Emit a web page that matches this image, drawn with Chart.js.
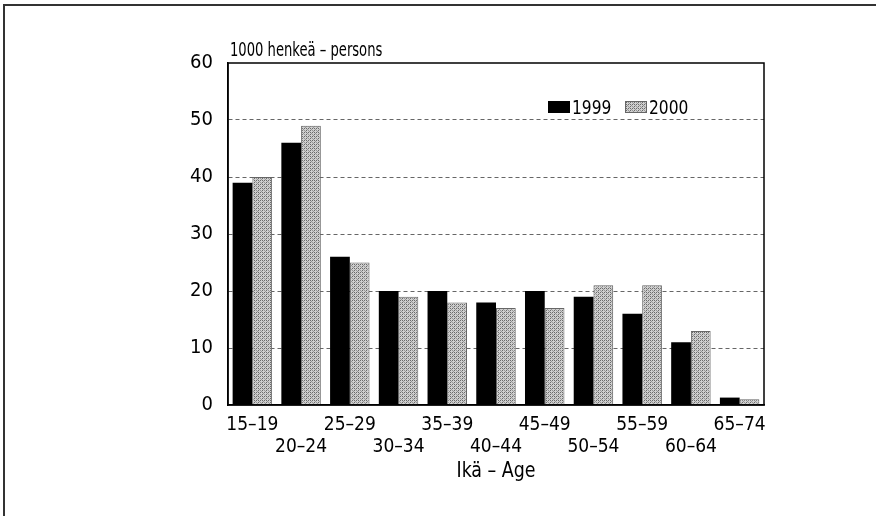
<!DOCTYPE html>
<html>
<head>
<meta charset="utf-8">
<script src="https://cdn.jsdelivr.net/npm/chart.js@4.4.0/dist/chart.umd.min.js"></script>
<style>
  html, body { margin: 0; padding: 0; background: #fff; }
</style>
</head>
<body>
<canvas id="myChart" width="876" height="516"></canvas>
<script>
const ageGroups = ['15–19', '20–24', '25–29', '30–34', '35–39', '40–44', '45–49', '50–54', '55–59', '60–64', '65–74'];
const values1999 = [39, 46, 26, 20, 20, 18, 20, 19, 16, 11, 1.3];
const values2000 = [40, 49, 25, 19, 18, 17, 17, 21, 21, 13, 1];
const yTicks = [0, 10, 20, 30, 40, 50, 60];
const seriesNames = ['1999', '2000'];

const FONT = "'Liberation Sans Narrow', 'DejaVu Sans Condensed', sans-serif";

// dotted grey fill like the printed screen tone
const makeTone = () => {
    const c = document.createElement('canvas');
    c.width = 4; c.height = 4;
    const g = c.getContext('2d');
    g.fillStyle = '#cfcfcf';
    g.fillRect(0, 0, 4, 4);
    g.fillStyle = '#6a6a6a';
    g.fillRect(0, 0, 1, 1);
    g.fillRect(2, 2, 1, 1);
    g.fillRect(2, 0, 1, 1);
    g.fillStyle = '#959595';
    g.fillRect(0, 2, 1, 1);
    g.fillRect(1, 3, 1, 1);
    g.fillRect(3, 1, 1, 1);
    return g.createPattern(c, 'repeat');
};

// narrow text: squeeze horizontally
const narrowText = (c, txt, x, y, sx) => {
    c.save();
    c.translate(x, y);
    c.scale(sx, 1);
    c.fillText(txt, 0, 0);
    c.restore();
};

const ctx = document.getElementById('myChart').getContext('2d');
const tone = makeTone();

const extras = {
    id: 'extras',
    beforeDraw(chart) {
        const c = chart.ctx;
        c.save();
        c.fillStyle = '#fff';
        c.fillRect(0, 0, chart.width, chart.height);
        // page frame (top and left edge)
        c.strokeStyle = '#333';
        c.lineWidth = 2;
        c.beginPath();
        c.moveTo(4, 516);
        c.lineTo(4, 5);
        c.lineTo(876, 5);
        c.stroke();
        c.restore();
    },
    afterDraw(chart) {
        const c = chart.ctx;
        const a = chart.chartArea;
        c.save();
        c.strokeStyle = '#000';
        c.lineWidth = 1.5;
        c.strokeRect(a.left, a.top, a.right - a.left, a.bottom - a.top);

        c.fillStyle = '#000';
        c.font = '20px ' + FONT;
        c.textBaseline = 'alphabetic';
        c.textAlign = 'left';
        narrowText(c, '1000 henkeä – persons', a.left + 2, 56, 0.73);

        c.font = '22px ' + FONT;
        c.textAlign = 'center';
        narrowText(c, 'Ikä – Age', (a.left + a.right) / 2, 477, 0.88);

        // legend
        const ds = chart.data.datasets;
        const boxes = [548, 625];
        c.textAlign = 'left';
        c.font = '20px ' + FONT;
        ds.forEach((d, i) => {
            const x = boxes[i];
            c.fillStyle = d.backgroundColor;
            c.fillRect(x, 101, 22, 12);
            if (d.borderWidth) {
                c.strokeStyle = d.borderColor;
                c.lineWidth = 1;
                c.strokeRect(x + 0.5, 101.5, 21, 11);
            }
            c.fillStyle = '#000';
            narrowText(c, d.label, x + 24, 114, 0.86);
        });
        c.restore();
    }
};

const myChart = new Chart(ctx, {
    type: 'bar',
    data: {
        labels: ageGroups,
        datasets: [
            {
                label: seriesNames[0],
                data: values1999,
                backgroundColor: '#000',
                borderWidth: 0
            },
            {
                label: seriesNames[1],
                data: values2000,
                backgroundColor: tone,
                borderColor: '#666',
                borderWidth: 1
            }
        ]
    },
    options: {
        responsive: false,
        animation: false,
        devicePixelRatio: 1,
        categoryPercentage: 0.81,
        barPercentage: 1,
        layout: { padding: { left: 188, right: 112, top: 63, bottom: 41 } },
        plugins: {
            legend: { display: false },
            tooltip: { enabled: false }
        },
        scales: {
            x: {
                grid: { display: false },
                border: { display: true, color: '#000', width: 1.5 },
                afterFit: (s) => { s.height = 70; },
                ticks: {
                    autoSkip: false,
                    maxRotation: 0,
                    padding: 1,
                    color: '#000',
                    font: { family: FONT, size: 19, lineHeight: 1.15 },
                    callback: (v, i) => i % 2 === 0 ? [ageGroups[i], ''] : ['', ageGroups[i]]
                }
            },
            y: {
                min: 0,
                max: 60,
                afterFit: (s) => { s.width = 40; },
                afterBuildTicks: (s) => { s.ticks = yTicks.map(v => ({ value: v })); },
                grid: {
                    drawTicks: false,
                    color: (c) => (c.tick && (c.tick.value === 0 || c.tick.value === 60)) ? 'rgba(0,0,0,0)' : '#666',
                    lineWidth: 1
                },
                border: { display: true, color: '#000', width: 1.5, dash: [4, 3] },
                ticks: {
                    padding: 15,
                    color: '#000',
                    font: { family: FONT, size: 20 }
                }
            }
        }
    },
    plugins: [extras]
});
</script>
</body>
</html>
